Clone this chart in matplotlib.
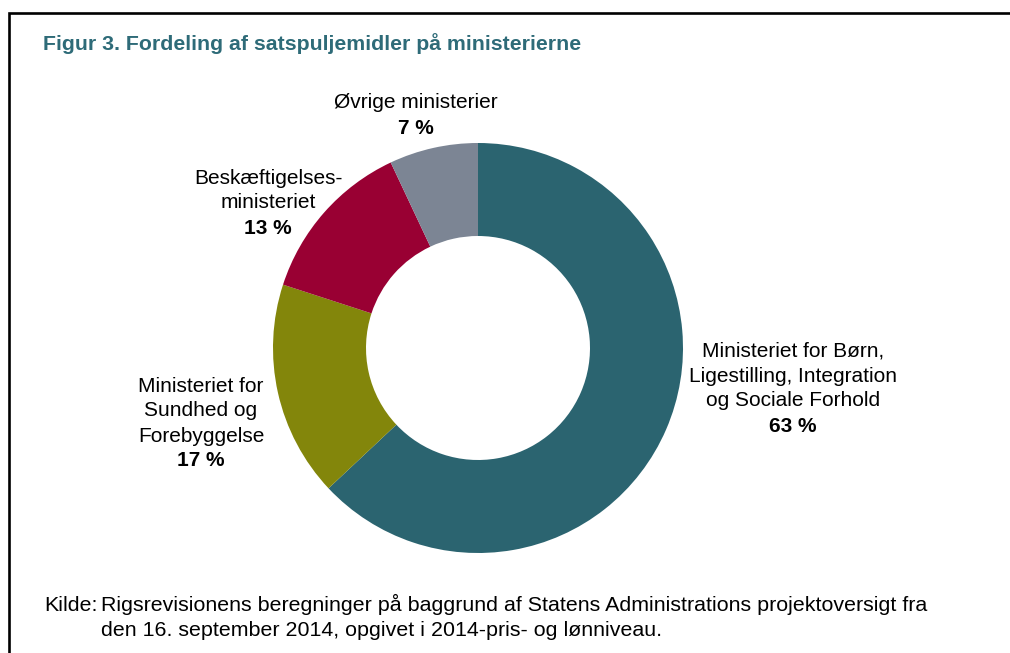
import matplotlib
matplotlib.use("Agg")
import matplotlib.pyplot as plt

plt.rcParams['font.family'] = ['Liberation Sans', 'DejaVu Sans']

names = ['Ministeriet for Børn,\nLigestilling, Integration\nog Sociale Forhold',
         'Ministeriet for\nSundhed og\nForebyggelse',
         'Beskæftigelses-\nministeriet',
         'Øvrige ministerier']
shares = [63, 17, 13, 7]
colors = ['#2b6470', '#83860b', '#990033', '#7c8594']
# label anchor (centre x, centre y of first line) in pixels
label_pos = [(793, 351), (201, 386), (268, 178), (416, 103)]

title = 'Figur 3. Fordeling af satspuljemidler på ministerierne'
source1 = 'Rigsrevisionens beregninger på baggrund af Statens Administrations projektoversigt fra'
source2 = 'den 16. september 2014, opgivet i 2014-pris- og lønniveau.'

fig = plt.figure(figsize=(10.1, 6.53), dpi=100)
ax = fig.add_axes([0, 0, 1, 1])

# frame (top and left only are visible)
ax.plot([8.5, 8.5, 1010], [653, 12.5, 12.5], color='black', lw=1.9,
        solid_joinstyle='miter')

ax.text(43, 44, title, fontsize=15.3, fontweight='bold', color='#2e6b78',
        ha='left', va='center')

# donut; y axis is inverted so counterclock in data = clockwise on screen
ax.pie(shares, colors=colors, startangle=-90, counterclock=True,
       center=(478, 348), radius=205, frame=True,
       wedgeprops=dict(width=93, linewidth=0))
ax.set_xlim(0, 1010)
ax.set_ylim(653, 0)
ax.set_aspect('equal')
ax.axis('off')

line_h = 25
for name, share, (x, y) in zip(names, shares, label_pos):
    lines = name.split('\n')
    for i, ln in enumerate(lines):
        ax.text(x, y + i * line_h, ln, fontsize=15, ha='center', va='center')
    ax.text(x, y + len(lines) * line_h, f'{share} %', fontsize=15,
            fontweight='bold', ha='center', va='center')

ax.text(44, 611, 'Kilde:', fontsize=15.4, ha='left', va='baseline')
ax.text(101, 611, source1, fontsize=15.4, ha='left', va='baseline')
ax.text(101, 636, source2, fontsize=15.4, ha='left', va='baseline')

fig.savefig('out.png', dpi=100)
